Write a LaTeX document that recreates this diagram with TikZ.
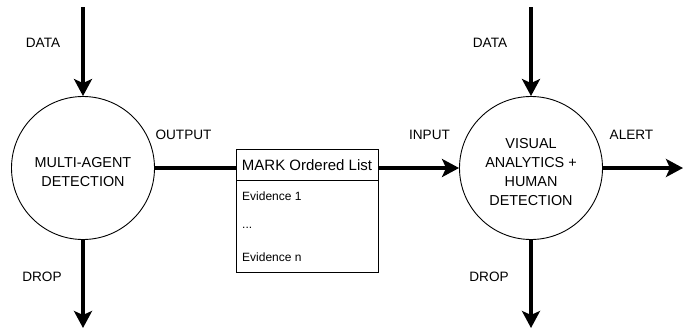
\documentclass[tikz,border=0pt]{standalone}
\usepackage{fontspec}
\setmainfont{Liberation Sans}
\usetikzlibrary{arrows.meta}
\begin{document}
\begin{tikzpicture}[x=1pt,y=-1pt,
  flow/.style={line width=3.4pt,-{Stealth[length=17pt,width=18pt,inset=4pt]}},
  link/.style={line width=3.4pt},
  proc/.style={circle,draw,line width=0.9pt,minimum size=143pt,inner sep=0pt,
    align=center,font=\fontsize{14.4}{19}\selectfont},
  lbl/.style={font=\fontsize{13.6}{16}\selectfont,inner sep=0pt},
  item/.style={font=\fontsize{12}{14}\selectfont,inner sep=0pt,anchor=west}]
\useasboundingbox (0,0) rectangle (687,330);

% processing stages
\node[proc] (mad) at (83,168) {};
\node[proc] (vad) at (531,168) {};
\node[align=center,font=\fontsize{14.4}{19}\selectfont] (madtxt) at (83,172) {MULTI-AGENT\\DETECTION};
\node[align=center,font=\fontsize{14.4}{19}\selectfont] (vadtxt) at (531,172) {VISUAL\\ANALYTICS +\\HUMAN\\DETECTION};

% ordered list box
\node[draw,line width=0.8pt,minimum width=142pt,minimum height=123pt,inner sep=0pt] (list) at (307,210.5) {};
\coordinate (hdrL) at (236,180);
\coordinate (hdrR) at (378,180);
\draw[line width=0.8pt] (hdrL) -- (hdrR);
\node[font=\fontsize{15}{18}\selectfont,inner sep=0pt] (hdr) at (307,165) {MARK Ordered List};
\node[item] (ev1) at (242,196) {Evidence 1};
\node[item] (dots) at (242,228) {...};
\node[item] (evn) at (242,257) {Evidence n};

% free ends of connectors
\coordinate (in1) at (83,7);
\coordinate (in2) at (531,7);
\coordinate (out1) at (83,328);
\coordinate (out2) at (531,328);
\coordinate (alert) at (683,168);

% connectors
\draw[flow] (in1) -- (mad.north);
\draw[flow] (mad.south) -- (out1);
\draw[link] (mad.east) -- (mad.east -| list.west);
\draw[flow] (list.east |- 0,168) -- (vad.west);
\draw[flow] (in2) -- (vad.north);
\draw[flow] (vad.south) -- (out2);
\draw[flow] (vad.east) -- (alert);

% labels
\node[lbl] (l1) at (43,43) {DATA};
\node[lbl] (l2) at (42,277) {DROP};
\node[lbl] (l3) at (183.5,135) {OUTPUT};
\node[lbl] (l4) at (429.5,135) {INPUT};
\node[lbl] (l5) at (490,43) {DATA};
\node[lbl] (l6) at (489,277) {DROP};
\node[lbl] (l7) at (631.5,135) {ALERT};
\end{tikzpicture}
\end{document}
